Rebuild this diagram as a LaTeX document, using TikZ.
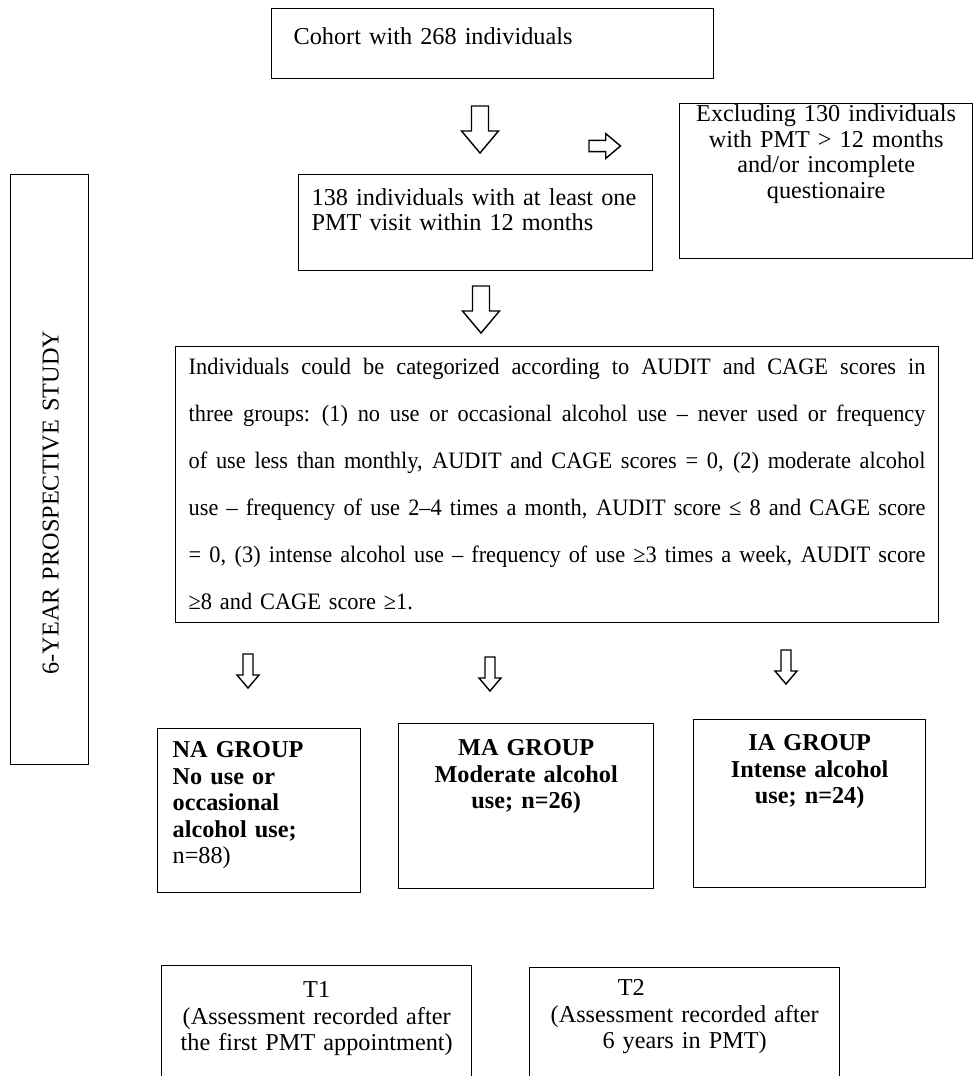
\documentclass[tikz,border=0pt]{standalone}
\usepackage{fontspec}
\setmainfont{Liberation Serif}
\newfontfamily\narrowserif[FakeStretch=0.95]{Liberation Serif}
\usepackage{tikz}
\newcommand{\fillline}[1]{\makebox[\linewidth][s]{\spaceskip=0.25em plus 1em minus 0.08em\relax #1}}

\begin{document}
\begin{tikzpicture}[
  x=0.02cm, y=-0.02cm,
  box/.style={draw, line width=0.8pt, anchor=north west, inner ysep=0pt, inner xsep=0.3cm,
    font=\fontsize{13.8pt}{15pt}\selectfont},
  group/.style={box, font=\fontsize{13.8pt}{15.1pt}\selectfont\bfseries},
  blockdown/.pic={\draw[line width=0.8pt] (-8.5,0) -- (-8.5,25) -- (-18.5,25) -- (0,47)
    -- (18.5,25) -- (8.5,25) -- (8.5,0) -- cycle;},
  blocksmall/.pic={\draw[line width=0.8pt] (-5,0) -- (-5,21) -- (-11,21) -- (0,34)
    -- (11,21) -- (5,21) -- (5,0) -- cycle;}
]
\useasboundingbox (0,0) rectangle (975,1076);

\node[box, inner xsep=0.44cm, text width=7.96cm, align=left, text height=0.72cm, text depth=0.68cm]
  (cohort) at (271,8) {Cohort with 268 individuals};
\node[box, inner xsep=0.2cm, text width=5.46cm, align=center, text height=0.36cm, text depth=2.74cm,
  font=\fontsize{13.8pt}{14.5pt}\selectfont]
  (excl) at (679,103) {Excluding 130 individuals\\with PMT > 12 months\\and/or incomplete\\questionaire};
\node[box, inner xsep=0.26cm, text width=6.56cm, align=left, text height=0.62cm, text depth=1.3cm,
  font=\fontsize{13.8pt}{14.2pt}\selectfont]
  (visit) at (298,174) {138 individuals with at least one\\PMT visit within 12 months};

\pic at (480,106) {blockdown};
\pic[rotate=90, scale=0.67] at (589,146) {blockdown};
\pic at (481,286) {blockdown};

\node[box, inner xsep=0.26cm, text width=14.74cm, align=left, text height=0.56cm, text depth=4.96cm,
  font=\narrowserif\fontsize{13.4pt}{26.7pt}\selectfont] (criteria) at (175,346)
  {\fillline{Individuals could be categorized according to AUDIT and CAGE scores in}\\
   \fillline{three groups: (1) no use or occasional alcohol use – never used or frequency}\\
   \fillline{of use less than monthly, AUDIT and CAGE scores = 0, (2) moderate alcohol}\\
   \fillline{use – frequency of use 2–4 times a month, AUDIT score ≤ 8 and CAGE score}\\
   \fillline{= 0, (3) intense alcohol use – frequency of use ≥3 times a week, AUDIT score}\\
   ≥8 and CAGE score ≥1.};

\node[box, rotate=90, inner xsep=1.8cm, text width=8.2cm, align=left, text height=0.96cm, text depth=0.6cm]
  (study) at (10,765) {6-YEAR PROSPECTIVE STUDY};

\foreach \x/\y in {248/654, 490/657, 786/650} {
  \pic at (\x,\y) {blocksmall};
}

\node[group, text width=3.46cm, align=left, text height=0.58cm, text depth=2.7cm]
  (na) at (157,728) {NA GROUP\\No use or\\occasional\\alcohol use;\\\mdseries n=88)};
\node[group, text width=4.5cm, align=center, text height=0.64cm, text depth=2.66cm]
  (ma) at (398,723) {MA GROUP\\Moderate alcohol\\use; n=26)};
\node[group, text width=4.04cm, align=center, text height=0.62cm, text depth=2.74cm]
  (ia) at (693,719) {IA GROUP\\Intense alcohol\\use; n=24)};

\node[box, text width=5.6cm, align=center, text height=0.64cm, text depth=2.4cm]
  (t1) at (161,965) {T1\\(Assessment recorded after\\the first PMT appointment)};
\node[box, text width=5.6cm, align=center, text height=0.56cm, text depth=2.4cm]
  (t2) at (529,967) {T2\hspace{4.4em}\mbox{}\\(Assessment recorded after\\6 years in PMT)};
\end{tikzpicture}
\end{document}
